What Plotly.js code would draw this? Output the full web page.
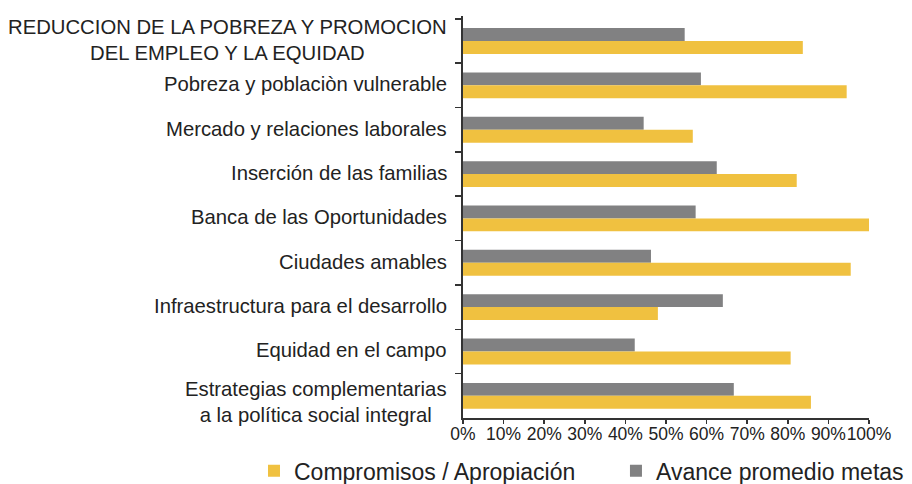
<!DOCTYPE html>
<html>
<head>
<meta charset="utf-8">
<script src="https://cdn.plot.ly/plotly-3.0.1.min.js"></script>
<style>html,body{margin:0;padding:0;background:#fff;}#chart{width:912px;height:484px;}</style>
</head>
<body>
<div id="chart"></div>
<script>
const categories = [
  "REDUCCION DE LA POBREZA Y PROMOCION<br>DEL EMPLEO Y LA EQUIDAD",
  "Pobreza y poblaciòn vulnerable",
  "Mercado y relaciones laborales",
  "Inserción de las familias",
  "Banca de las Oportunidades",
  "Ciudades amables",
  "Infraestructura para el desarrollo",
  "Equidad en el campo",
  "Estrategias complementarias<br>a la política social integral"
];
const avanceMetas = [54.6, 58.6, 44.5, 62.5, 57.3, 46.3, 64.0, 42.3, 66.7];
const compromisos = [83.7, 94.5, 56.6, 82.2, 100.0, 95.5, 48.0, 80.7, 85.7];
const xTicks = [0, 10, 20, 30, 40, 50, 60, 70, 80, 90, 100];

const FONT = "Liberation Sans, Arial, sans-serif";

const traces = [
  {
    type: "bar", orientation: "h",
    name: "Avance promedio metas",
    y: categories, x: avanceMetas,
    marker: {color: "#818182"},
    legend: "legend2",
    hoverinfo: "skip"
  },
  {
    type: "bar", orientation: "h",
    name: "Compromisos / Apropiación",
    y: categories, x: compromisos,
    marker: {color: "#F0C140"},
    legend: "legend",
    hoverinfo: "skip"
  }
];

const annotations = categories.map((c, i) => ({
  xref: "paper", yref: "y", x: 0, y: c,
  xanchor: "right", yanchor: "middle", xshift: -14,
  yshift: (i === categories.length - 1) ? -6 : 1,
  align: "center", showarrow: false,
  text: c,
  font: {family: FONT, size: 20.3, color: "#222"}
}));

const legendFont = {family: FONT, size: 23, color: "#222"};

const layout = {
  width: 912, height: 484,
  margin: {l: 463, r: 43, t: 16, b: 66, pad: 0, autoexpand: false},
  paper_bgcolor: "#fff", plot_bgcolor: "#fff",
  barmode: "group", bargap: 0.417, bargroupgap: 0,
  showlegend: true,
  legend: {
    orientation: "h",
    xref: "container", yref: "paper",
    x: 0.2785, y: -0.185, xanchor: "left", yanchor: "bottom",
    font: legendFont, bgcolor: "rgba(0,0,0,0)"
  },
  legend2: {
    orientation: "h",
    xref: "container", yref: "paper",
    x: 0.6754, y: -0.185, xanchor: "left", yanchor: "bottom",
    font: legendFont, bgcolor: "rgba(0,0,0,0)"
  },
  xaxis: {
    range: [0, 100], tickvals: xTicks, ticktext: xTicks.map(v => v + "%"),
    tickangle: 0, ticklabelstandoff: -5,
    showgrid: false, zeroline: false,
    showline: true, linecolor: "#333", linewidth: 1.5,
    ticks: "outside", ticklen: 4, tickcolor: "#333", tickwidth: 1.5,
    tickfont: {family: FONT, size: 17.5, color: "#222"},
    fixedrange: true
  },
  yaxis: {
    type: "category", autorange: "reversed",
    showticklabels: false, showgrid: false, zeroline: false,
    showline: true, linecolor: "#333", linewidth: 2,
    ticks: "outside", tickson: "boundaries", ticklen: 6, tickcolor: "#333", tickwidth: 1.5,
    fixedrange: true
  },
  annotations: annotations
};

Plotly.newPlot("chart", traces, layout, {displayModeBar: false, staticPlot: true});
</script>
</body>
</html>
